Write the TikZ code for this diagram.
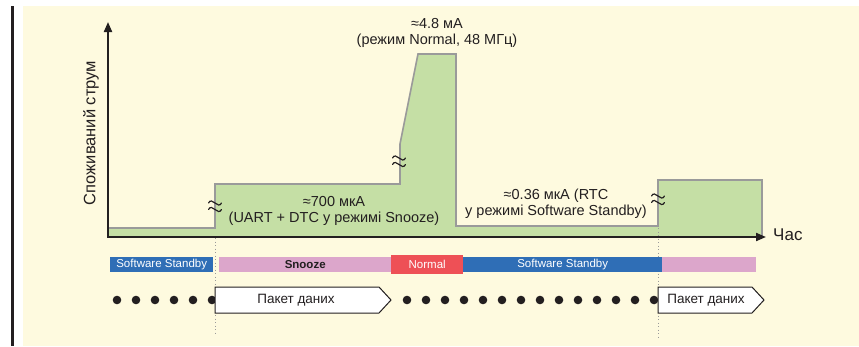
\documentclass[tikz,border=0pt]{standalone}
\usepackage{fontspec}
\setmainfont{Liberation Sans}
\usetikzlibrary{arrows.meta}
\definecolor{paper}{HTML}{FEFADF}
\definecolor{ink}{HTML}{231F20}
\definecolor{curfill}{HTML}{C5DFA5}
\definecolor{curline}{HTML}{9A9A9A}
\definecolor{stbblue}{HTML}{2F6EB6}
\definecolor{snzpink}{HTML}{DCA6CB}
\definecolor{nrmred}{HTML}{EE5056}
\tikzset{
  axisline/.style={draw=ink, line width=2pt, -{Triangle[length=10pt,width=8pt]}},
  lbl/.style={text=ink, align=center, inner sep=0pt, font=\fontsize{14.5}{16}\selectfont},
  modebar/.style={anchor=west, inner sep=0pt, minimum height=15pt, text=white,
                  font=\fontsize{11.5}{12}\selectfont},
  guide/.style={draw=curline, line width=1pt, dash pattern=on 1pt off 2.5pt},
  packet/.style={draw=ink, fill=white, line width=1pt, line join=miter},
  pkttext/.style={text=ink, inner sep=0pt, font=\fontsize{13.5}{15}\selectfont},
  dot/.style={fill=ink},
  breakmark/.pic={
    \draw[ink, line width=1.2pt, line cap=round]
      (-6.5,-2) .. controls (-3,-9) and (3,5) .. (6.5,-2)
      (-6.5,4.5) .. controls (-3,-2.5) and (3,11.5) .. (6.5,4.5);
  }
}
\begin{document}
\begin{tikzpicture}[x=1pt,y=-1pt]
\useasboundingbox (0,0) rectangle (859,346);
\fill[white] (0,0) rectangle (859,346);
\fill[paper] (23,6) rectangle (859,346);
\fill[ink] (11,6) rectangle (13.5,346);

% current profile
\fill[curfill] (108,237) -- (108,228) -- (215,228) -- (215,184) -- (400,184)
  -- (400,144) -- (418,54) -- (456,54) -- (456,226) -- (658,226) -- (658,180)
  -- (762,180) -- (762,237) -- cycle;
\draw[curline, line width=1.6pt, line join=miter]
  (108,228) -- (215,228) -- (215,184) -- (400,184) -- (400,144) -- (418,54)
  -- (456,54) -- (456,226) -- (658,226) -- (658,180) -- (762,180) -- (762,237);

% guides through the mode changes
\draw[guide] (215,238) -- (215,334);
\draw[guide] (658,228) -- (658,338);

% axes
\coordinate (O) at (108,237);
\coordinate (ytop) at (108,22);
\coordinate (xend) at (766,237);
\draw[axisline] (O) -- (ytop);
\draw[axisline] ([xshift=-1pt]O) -- (xend);
\node[text=ink, inner sep=0pt, rotate=90, font=\fontsize{16.5}{18}\selectfont] (ylab) at (91,133) {Споживаний струм};
\node[text=ink, inner sep=0pt, anchor=west, font=\fontsize{17}{18}\selectfont] (xlab) at (773,235) {Час};

% scale breaks
\pic at (215,205) {breakmark};
\pic at (399,160) {breakmark};
\pic at (658,198) {breakmark};

% level labels
\node[lbl] (peak) at (437,32.5) {≈4.8 мА\\(режим Normal, 48 МГц)};
\node[lbl] (snz) at (334,210.5) {≈700 мкА\\(UART + DTC у режимі Snooze)};
\node[lbl] (stb) at (556,204) {≈0.36 мкА (RTC\\у режимі Software Standby)};

% mode bars
\node[modebar, fill=stbblue, minimum width=103pt] (m1) at (110,264.5) {Software Standby};
\node[modebar, fill=snzpink, minimum width=172pt, text=ink, font=\bfseries\fontsize{11.5}{12}\selectfont] (m2) at (219,264.5) {Snooze};
\node[modebar, fill=nrmred, minimum width=72pt, minimum height=19pt] (m3) at (391,264.5) {Normal};
\node[modebar, fill=stbblue, minimum width=199pt] (m4) at (463,264.5) {Software Standby};
\node[modebar, fill=snzpink, minimum width=94pt] (m5) at (662,264.5) {};

% idle dots
\foreach \i in {0,...,5} \fill[dot] (117+19*\i,300) circle (4.3pt);
\foreach \i in {0,...,13} \fill[dot] (407+19*\i,300) circle (4.3pt);

% data packets
\draw[packet] (215,287) -- (379,287) -- (391,300) -- (379,313) -- (215,313) -- cycle;
\node[pkttext] (p1) at (296,300) {Пакет даних};
\draw[packet] (658,287) -- (752,287) -- (764,300) -- (752,313) -- (658,313) -- cycle;
\node[pkttext] (p2) at (706,300) {Пакет даних};
\end{tikzpicture}
\end{document}
